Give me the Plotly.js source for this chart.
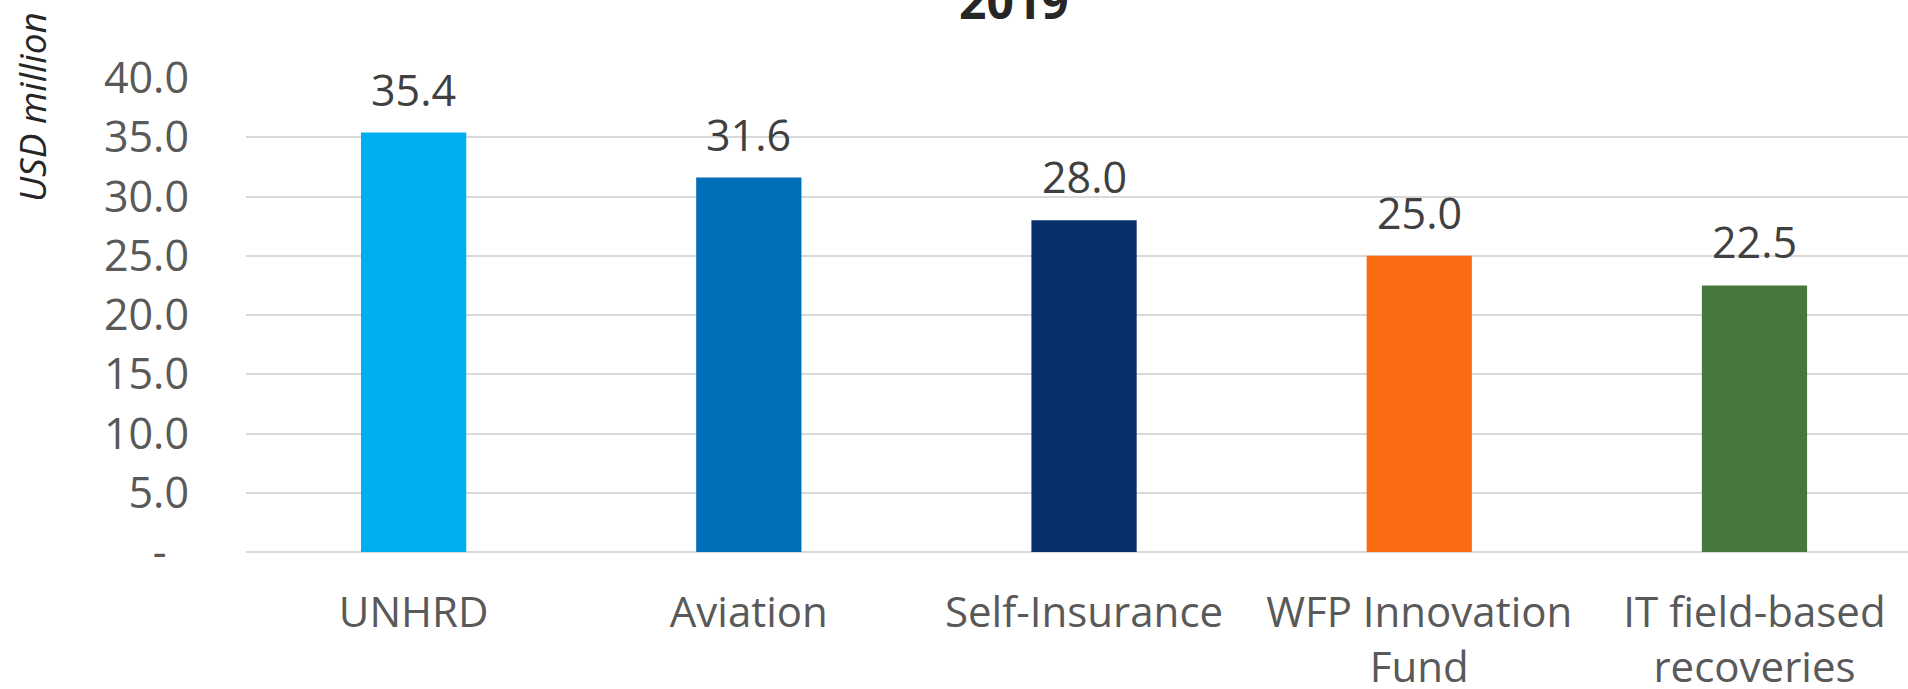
<!DOCTYPE html>
<html>
<head>
<meta charset="utf-8">
<script src="https://cdn.plot.ly/plotly-3.0.1.min.js"></script>
<style>
  html, body { margin: 0; padding: 0; background: #fff; overflow: hidden; }
  #chart { width: 1908px; height: 689px; }
</style>
</head>
<body>
<div id="chart"></div>
<script>
const categories = ['UNHRD', 'Aviation', 'Self-Insurance', 'WFP Innovation<br>Fund', 'IT field-based<br>recoveries'];
const values = [35.4, 31.6, 28.0, 25.0, 22.5];
const barColors = ['#00AFEF', '#006EB8', '#072F6B', '#FB6C12', '#46773B'];
const yTickVals = [0, 5, 10, 15, 20, 25, 30, 35, 40];
const yTickText = ['-\u00a0\u00a0', '5.0', '10.0', '15.0', '20.0', '25.0', '30.0', '35.0', '40.0'];

const font = '"Open Sans", "Noto Sans", sans-serif';

const labels = categories.map((cat, i) => ({
  x: cat,
  y: values[i],
  xref: 'x',
  yref: 'y',
  text: values[i].toFixed(1),
  showarrow: false,
  yanchor: 'bottom',
  yshift: 12,
  font: { family: font, size: 43, color: '#404040' },
}));

Plotly.newPlot('chart', [{
  type: 'bar',
  x: categories,
  y: values,
  marker: { color: barColors },
  hoverinfo: 'x+y',
}], {
  width: 1908,
  height: 689,
  margin: { l: 246, r: 0, t: 78, b: 137, pad: 0 },
  paper_bgcolor: '#ffffff',
  plot_bgcolor: '#ffffff',
  bargap: 0.686,
  showlegend: false,
  font: { family: font, color: '#595959' },
  xaxis: {
    type: 'category',
    range: [-0.5, 4.458],
    showgrid: false,
    showline: false,
    ticks: '',
    ticklabelstandoff: 32,
    tickfont: { family: font, size: 42, color: '#595959' },
  },
  yaxis: {
    range: [0, 40],
    tickvals: yTickVals,
    ticktext: yTickText,
    showgrid: true,
    gridcolor: '#D9D9D9',
    gridwidth: 2,
    zeroline: true,
    zerolinecolor: '#D9D9D9',
    zerolinewidth: 2,
    showline: false,
    ticks: '',
    ticklabelstandoff: 56,
    tickfont: { family: font, size: 43, color: '#595959' },
  },
  annotations: [
    ...labels,
    {
      text: '<b>2019</b>',
      xref: 'paper', yref: 'paper',
      x: (1014 - 246) / 1662, y: 1,
      xanchor: 'center', yanchor: 'bottom',
      yshift: 43,
      showarrow: false,
      font: { family: font, size: 48, color: '#262626' },
    },
    {
      text: '<i>USD million</i>',
      xref: 'paper', yref: 'paper',
      x: (31 - 246) / 1662, y: (552 - 107) / 474,
      xanchor: 'center', yanchor: 'middle',
      textangle: -90,
      showarrow: false,
      font: { family: font, size: 37, color: '#262626' },
    },
  ],
}, { displayModeBar: false, staticPlot: true });
</script>
</body>
</html>
